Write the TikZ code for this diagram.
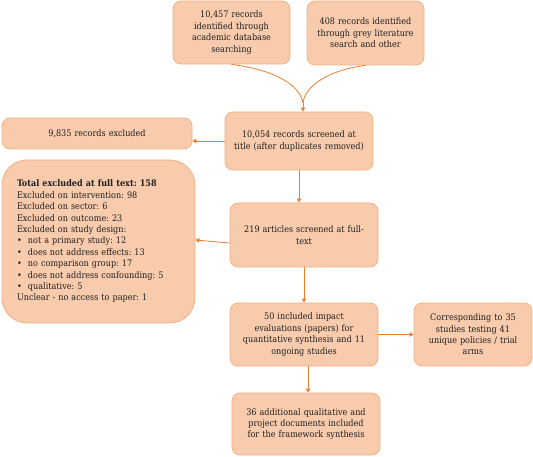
\documentclass[tikz,border=0pt]{standalone}
\usepackage{fontspec}
\setmainfont{DejaVu Serif Condensed}
\usetikzlibrary{arrows.meta}
\definecolor{boxfill}{HTML}{F8CBAD}
\definecolor{boxline}{HTML}{F4B183}
\definecolor{arr}{HTML}{ED7D31}
\definecolor{txt}{HTML}{1F1F1F}
\frenchspacing
\begin{document}
\begin{tikzpicture}[x=1pt,y=-1pt,
  box/.style={draw=boxline,line width=0.8pt,fill=boxfill,rounded corners=8pt,
    inner sep=2pt,align=center,text=txt,font=\fontsize{9}{11.4}\selectfont},
  conn/.style={draw=arr,line width=0.8pt},
  arrow/.style={conn,-{Triangle[width=4.5pt,length=4pt]}}]
\useasboundingbox (0,0) rectangle (533,457);
\node[box,minimum width=117pt,minimum height=63pt,text width=110pt] (A) at (231.5,32.5)
  {10,457 records\\identified through\\academic database\\searching};
\node[box,minimum width=117pt,minimum height=64pt,text width=110pt] (B) at (365.5,33)
  {408 records identified\\through grey literature\\search and other};
\node[box,minimum width=190pt,minimum height=31pt,text width=180pt] (C) at (97,133.5)
  {9,835 records excluded};
\node[box,minimum width=148pt,minimum height=58pt,text width=144pt] (D) at (299,141)
  {10,054 records screened at\\title (after duplicates removed)};
\node[box,rounded corners=25pt,minimum width=193pt,minimum height=163pt,text width=163pt,align=left] (F) at (98.5,241.5)
  {\textbf{Total excluded at full text: 158}\\
   Excluded on intervention: 98\\
   Excluded on sector: 6\\
   Excluded on outcome: 23\\
   Excluded on study design:\\
   \makebox[11pt][l]{•}not a primary study: 12\\
   \makebox[11pt][l]{•}does not address effects: 13\\
   \makebox[11pt][l]{•}no comparison group: 17\\
   \makebox[11pt][l]{•}does not address confounding: 5\\
   \makebox[11pt][l]{•}qualitative: 5\\
   Unclear - no access to paper: 1};
\node[box,minimum width=148pt,minimum height=64pt,text width=140pt] (E) at (304,235)
  {219 articles screened at full-\\text};
\node[box,minimum width=148pt,minimum height=63pt,text width=144pt] (G) at (304,334.5)
  {50 included impact\\evaluations (papers) for\\quantitative synthesis and 11\\ongoing studies};
\node[box,minimum width=118pt,minimum height=63pt,text width=114pt] (H) at (473,334.5)
  {Corresponding to 35\\studies testing 41\\unique policies / trial\\arms};
\node[box,minimum width=148pt,minimum height=62pt,text width=144pt] (I) at (306,424)
  {36 additional qualitative and\\project documents included\\for the framework synthesis};
\coordinate (M) at (303,103);
\draw[conn] (A.south) .. controls (275,70) and (300,85) .. (M);
\draw[conn] (B.south) .. controls (330,70) and (305,85) .. (M);
\draw[arrow] (M) -- (M |- D.north);
\draw[arrow] (D.west) -- (D.west -| C.east);
\draw[arrow] (D.south) -- (D.south |- E.north);
\draw[arrow] ([yshift=-8pt]E.west) -- ([yshift=1.5pt]F.east);
\draw[arrow] (E.south) -- (E.south |- G.north);
\draw[arrow] (G.east) -- (H.west);
\draw[arrow] ([xshift=4pt]G.south) -- ([xshift=4pt]G.south |- I.north);
\end{tikzpicture}
\end{document}
